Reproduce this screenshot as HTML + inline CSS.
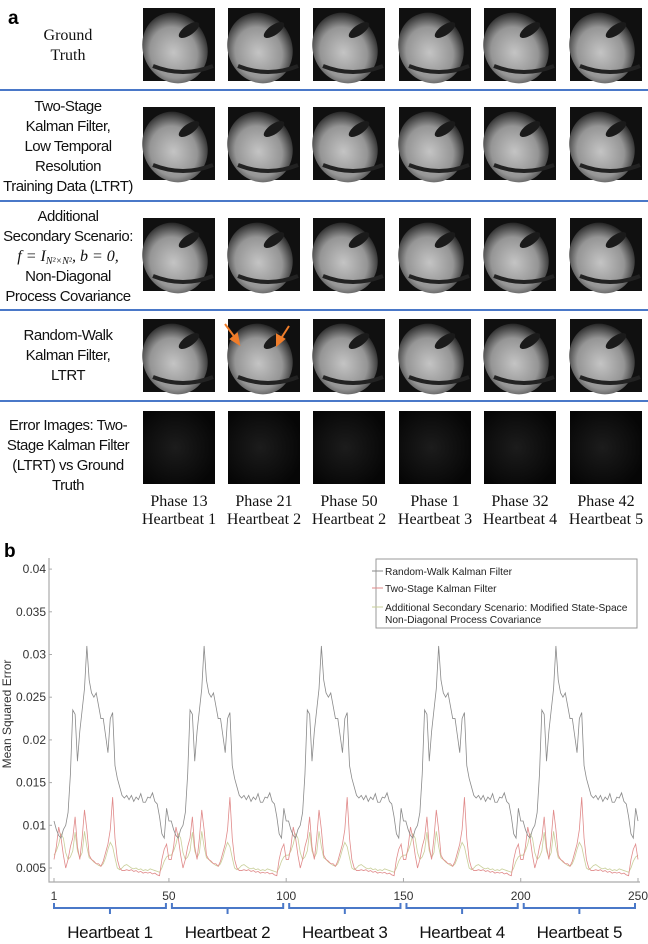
<!DOCTYPE html>
<html><head><meta charset="utf-8"><style>
body{margin:0;background:#fff;width:648px;height:944px;overflow:hidden}
svg{display:block}
.lab{font-family:"Liberation Sans",sans-serif;font-size:15px;fill:#111;text-anchor:middle;letter-spacing:-0.5px}
.ser{font-family:"Liberation Serif",serif;font-size:16px;fill:#111;text-anchor:middle}
.tk{font-family:"Liberation Sans",sans-serif;font-size:12px;fill:#333}
.lg{font-family:"Liberation Sans",sans-serif;font-size:10.2px;fill:#222}
.hb{font-family:"Liberation Sans",sans-serif;font-size:17px;fill:#111;text-anchor:middle;letter-spacing:-0.3px}
</style></head><body>
<svg id="fig" width="648" height="944" viewBox="0 0 648 944">
<defs>
<radialGradient id="hg" cx="0.45" cy="0.55" r="0.6">
<stop offset="0" stop-color="#c4c4c4"/><stop offset="0.6" stop-color="#959595"/><stop offset="1" stop-color="#141414"/>
</radialGradient>
<radialGradient id="eg" cx="0.45" cy="0.5" r="0.6">
<stop offset="0" stop-color="#1c1c1c"/><stop offset="1" stop-color="#060606"/>
</radialGradient>
</defs>
<text x="8" y="24" font-family="Liberation Sans,sans-serif" font-weight="bold" font-size="19">a</text>
<text x="4" y="557" font-family="Liberation Sans,sans-serif" font-weight="bold" font-size="19">b</text>
<g>
<text class="ser" x="68" y="40">Ground</text><text class="ser" x="68" y="60">Truth</text>
<text class="lab" x="68" y="111">Two-Stage</text><text class="lab" x="68" y="131">Kalman Filter,</text><text class="lab" x="68" y="151">Low Temporal</text><text class="lab" x="68" y="171">Resolution</text><text class="lab" x="68" y="191">Training Data (LTRT)</text>
<text class="lab" x="68" y="221">Additional</text><text class="lab" x="68" y="241">Secondary Scenario:</text>
<text class="ser" x="68" y="261" font-style="italic">f = I<tspan font-size="10" dy="3">N²×N²</tspan><tspan dy="-3">, b = 0,</tspan></text>
<text class="lab" x="68" y="281">Non-Diagonal</text><text class="lab" x="68" y="301">Process Covariance</text>
<text class="lab" x="68" y="340">Random-Walk</text><text class="lab" x="68" y="360">Kalman Filter,</text><text class="lab" x="68" y="380">LTRT</text>
<text class="lab" x="68" y="430">Error Images: Two-</text><text class="lab" x="68" y="450">Stage Kalman Filter</text><text class="lab" x="68" y="470">(LTRT) vs Ground</text><text class="lab" x="68" y="490">Truth</text>
</g>
<g stroke="#4a78c8" stroke-width="2">
<line x1="0" y1="90" x2="648" y2="90"/><line x1="0" y1="201" x2="648" y2="201"/><line x1="0" y1="310" x2="648" y2="310"/><line x1="0" y1="401" x2="648" y2="401"/>
</g>
<g id="imgs"></g>
<g stroke="#f07d2a" stroke-width="2" fill="#f07d2a">
<line x1="225" y1="324" x2="236" y2="339"/><polygon points="239,344 231,339 237,334"/>
<line x1="289" y1="326" x2="280" y2="340"/><polygon points="277,345 277,335 284,339"/>
</g>
<g>
<text class="ser" x="179" y="506">Phase 13</text><text class="ser" x="179" y="524">Heartbeat 1</text>
<text class="ser" x="264" y="506">Phase 21</text><text class="ser" x="264" y="524">Heartbeat 2</text>
<text class="ser" x="349" y="506">Phase 50</text><text class="ser" x="349" y="524">Heartbeat 2</text>
<text class="ser" x="435" y="506">Phase 1</text><text class="ser" x="435" y="524">Heartbeat 3</text>
<text class="ser" x="520" y="506">Phase 32</text><text class="ser" x="520" y="524">Heartbeat 4</text>
<text class="ser" x="606" y="506">Phase 42</text><text class="ser" x="606" y="524">Heartbeat 5</text>
</g>
<g id="chart"></g>
</svg>
<script>
const NS='http://www.w3.org/2000/svg';
function mk(p,t,a){const e=document.createElementNS(NS,t);for(const k in a)e.setAttribute(k,a[k]);p.appendChild(e);return e;}
const colX=[143,228,313,399,484,570];
const rowY=[8,107,218,319,411];
const g=document.getElementById('imgs');
rowY.forEach((y,r)=>colX.forEach((x,c)=>{
  const im=mk(g,'g',{});
  
  
  if(r===4){mk(im,'rect',{x:x,y:y,width:72,height:73,fill:'url(#eg)'});return;}
  mk(im,'rect',{x:x,y:y,width:72,height:73,fill:'#101010'});
  mk(im,'ellipse',{cx:x+32,cy:y+40,rx:32,ry:36,fill:'url(#hg)',transform:`rotate(-25 ${x+32} ${y+40})`});
  mk(im,'ellipse',{cx:x+46,cy:y+22,rx:12,ry:5,fill:'#1a1a1a',transform:`rotate(-35 ${x+46} ${y+22})`});
  mk(im,'path',{d:`M${x+10} ${y+58} Q${x+40} ${y+70} ${x+70} ${y+58}`,stroke:'#222',fill:'none','stroke-width':4});
}));
// chart data
const xTicks=[1,50,100,150,200,250];
const yTicks=[0.005,0.01,0.015,0.02,0.025,0.03,0.035,0.04];
const yTickLabels=['0.005','0.01','0.015','0.02','0.025','0.03','0.035','0.04'];
const beatNames=['Heartbeat 1','Heartbeat 2','Heartbeat 3','Heartbeat 4','Heartbeat 5'];
const rwBeat=[0.0105,0.0095,0.0088,0.0085,0.0095,0.010,0.0115,0.016,0.0235,0.023,0.0175,0.021,0.0235,0.026,0.031,0.027,0.0255,0.025,0.0255,0.024,0.0225,0.0225,0.0205,0.0185,0.0225,0.0232,0.017,0.0155,0.0145,0.0135,0.0132,0.0135,0.013,0.0135,0.0128,0.0133,0.013,0.0137,0.0127,0.0127,0.0133,0.0132,0.0138,0.0128,0.0125,0.011,0.009,0.0085,0.012,0.0105];
const tsBeat=[0.006,0.0075,0.0098,0.0085,0.0065,0.005,0.006,0.0075,0.0085,0.011,0.0075,0.006,0.0085,0.0118,0.0095,0.0065,0.006,0.0058,0.0055,0.0055,0.0052,0.0058,0.0068,0.0078,0.0095,0.0133,0.0085,0.006,0.005,0.0047,0.0047,0.0048,0.0047,0.0048,0.0046,0.0047,0.0045,0.0046,0.0044,0.0045,0.0044,0.0045,0.0043,0.0044,0.0042,0.0041,0.006,0.0072,0.0078,0.006];
const adBeat=[0.0065,0.007,0.0078,0.009,0.0085,0.0068,0.006,0.0063,0.007,0.0092,0.007,0.0062,0.0068,0.0093,0.0075,0.0062,0.006,0.0057,0.0055,0.0053,0.0052,0.0055,0.0062,0.0072,0.008,0.0075,0.0062,0.005,0.0048,0.005,0.0053,0.0054,0.0052,0.005,0.0049,0.005,0.0048,0.0049,0.0047,0.0048,0.0047,0.0049,0.0048,0.0047,0.0046,0.0045,0.005,0.0058,0.0063,0.0065];
const rwSeries=[].concat(rwBeat,rwBeat,rwBeat,rwBeat,rwBeat);
const tsSeries=[].concat(tsBeat,tsBeat,tsBeat,tsBeat,tsBeat);
const adSeries=[].concat(adBeat,adBeat,adBeat,adBeat,adBeat);
const X=v=>54+(v-1)/249*584;
const Y=v=>868-(v-0.005)/0.005*42.7;
const ch=document.getElementById('chart');
const ax=mk(ch,'path',{d:'M49 558 V882 H640',stroke:'#aaa',fill:'none','stroke-width':1.2});


yTicks.forEach((v,i)=>{
  const t=mk(ch,'text',{x:46,y:Y(v)+4,class:'tk','text-anchor':'end'});t.textContent=yTickLabels[i];
  
  
  mk(ch,'line',{x1:49,x2:52,y1:Y(v),y2:Y(v),stroke:'#aaa'});
});
xTicks.forEach(v=>{
  const t=mk(ch,'text',{x:X(v),y:900,class:'tk','text-anchor':'middle'});t.textContent=v;
  
  
  mk(ch,'line',{x1:X(v),x2:X(v),y1:882,y2:878,stroke:'#aaa'});
});
const yl=mk(ch,'text',{x:11,y:714,class:'tk','text-anchor':'middle',transform:'rotate(-90 11 714)','font-size':'12.5'});
yl.textContent='Mean Squared Error';


function line(arr,col,name){
  const p=mk(ch,'polyline',{points:arr.map((v,i)=>X(i+1)+','+Y(v)).join(' '),fill:'none',stroke:col,'stroke-width':0.8});
  
  
}
line(adSeries,'#c9cf9a','line-additional-scenario');
line(tsSeries,'#e08a8a','line-two-stage');
line(rwSeries,'#8a8a8a','line-random-walk');
const bx=[1,50,100,150,200,250];
for(let i=0;i<5;i++){
  const a=X(bx[i])+(i?3:0),b=X(bx[i+1])-3,m=(a+b)/2;
  const br=mk(ch,'path',{d:`M${a} 903 V908 H${b} V903 M${m} 908 V914`,stroke:'#4a78c8','stroke-width':2,fill:'none'});
  
  
  const t=mk(ch,'text',{x:m,y:938,class:'hb'});t.textContent=beatNames[i];
  
  
}
const lgd=mk(ch,'g',{});


mk(lgd,'rect',{x:376,y:559,width:261,height:69,fill:'#fff',stroke:'#999'});
[['Random-Walk Kalman Filter',575,'#8a8a8a'],['Two-Stage Kalman Filter',592,'#e08a8a'],['Additional Secondary Scenario: Modified State-Space',611,'#c9cf9a'],['Non-Diagonal Process Covariance',623,null]].forEach(e=>{
  if(e[2])mk(lgd,'line',{x1:372,x2:383,y1:e[1]-4,y2:e[1]-4,stroke:e[2]});
  const t=mk(lgd,'text',{x:385,y:e[1],class:'lg'});t.textContent=e[0];
  
  
});
</script>
</body></html>
